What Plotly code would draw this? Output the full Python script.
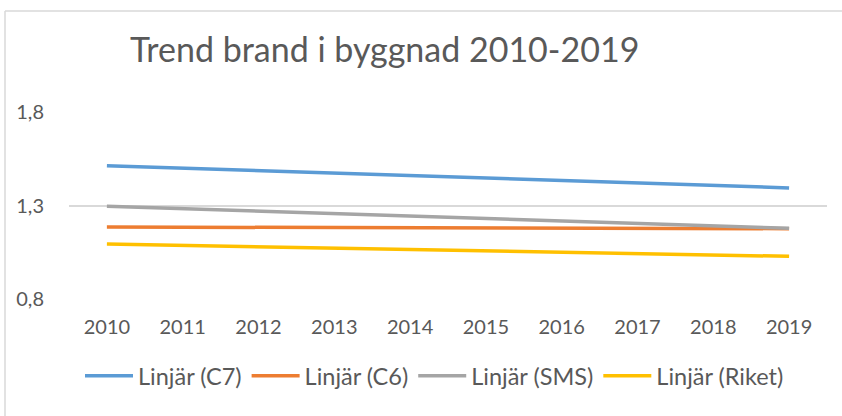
import plotly.graph_objects as go

years = [2010, 2011, 2012, 2013, 2014, 2015, 2016, 2017, 2018, 2019]
c7 = [1.513, 1.500, 1.487, 1.474, 1.460, 1.447, 1.434, 1.421, 1.407, 1.394]
c6 = [1.185, 1.184, 1.183, 1.182, 1.181, 1.180, 1.179, 1.178, 1.177, 1.176]
sms = [1.296, 1.283, 1.270, 1.257, 1.244, 1.230, 1.217, 1.204, 1.191, 1.178]
riket = [1.094, 1.087, 1.079, 1.072, 1.065, 1.057, 1.050, 1.043, 1.035, 1.028]
series_names = ["Linjär (C7)", "Linjär (C6)", "Linjär (SMS)", "Linjär (Riket)"]
y_ticks = [0.8, 1.3, 1.8]

colors = ["#5B9BD5", "#ED7D31", "#A5A5A5", "#FFC000"]
FONT = "Lato, sans-serif"

W, H = 842, 416
L, R, T, B = 69, 15, 112, 117
pw = W - L - R
ph = H - T - B

fig = go.Figure()
for name, vals, col in zip(series_names, [c7, c6, sms, riket], colors):
    fig.add_trace(go.Scatter(x=years, y=vals, mode="lines", name=name,
                             line=dict(color=col, width=3.5)))

def px_x(p):
    return (p - L) / pw

def px_y(p):
    return (H - B - p) / ph

fig.update_layout(
    width=W, height=H,
    margin=dict(l=L, r=R, t=T, b=B, autoexpand=False),
    paper_bgcolor="white", plot_bgcolor="white",
    separators=", ",
    font=dict(family=FONT, color="#595959", size=20),
    showlegend=True,
    legend=dict(orientation="h", x=px_x(80), y=px_y(376), xanchor="left", yanchor="middle",
                font=dict(size=23.5, color="#595959"), itemwidth=48, tracegroupgap=0),
    xaxis=dict(range=[2009.5, 2019.5], tickmode="array", tickvals=years,
               ticktext=[str(y) for y in years], showgrid=False, zeroline=False,
               showline=False, ticks="outside", ticklen=10, tickcolor="rgba(0,0,0,0)",
               tickfont=dict(size=20, color="#595959")),
    yaxis=dict(range=[0.8, 1.8], tickmode="array", tickvals=y_ticks,
               ticktext=["0,8", "1,3", "1,8"], showgrid=True, gridcolor="#D9D9D9",
               gridwidth=1.5, zeroline=False, showline=False,
               ticks="outside", ticklen=20, tickcolor="rgba(0,0,0,0)",
               tickfont=dict(size=20, color="#595959")),
    annotations=[dict(text="Trend brand i byggnad 2010-2019", xref="paper", yref="paper",
                      x=px_x(384), y=px_y(48), xanchor="center", yanchor="middle",
                      showarrow=False, font=dict(size=34, color="#595959", family=FONT))],
    shapes=[
        dict(type="line", xref="paper", yref="paper", x0=px_x(5), x1=px_x(5),
             y0=px_y(11), y1=px_y(430), line=dict(color="#D9D9D9", width=1.5)),
        dict(type="line", xref="paper", yref="paper", x0=px_x(5), x1=px_x(860),
             y0=px_y(11), y1=px_y(11), line=dict(color="#D9D9D9", width=1.5)),
    ],
)

fig.write_html("out.html", config={"displayModeBar": False},
               post_script="document.body.style.margin='0';")
